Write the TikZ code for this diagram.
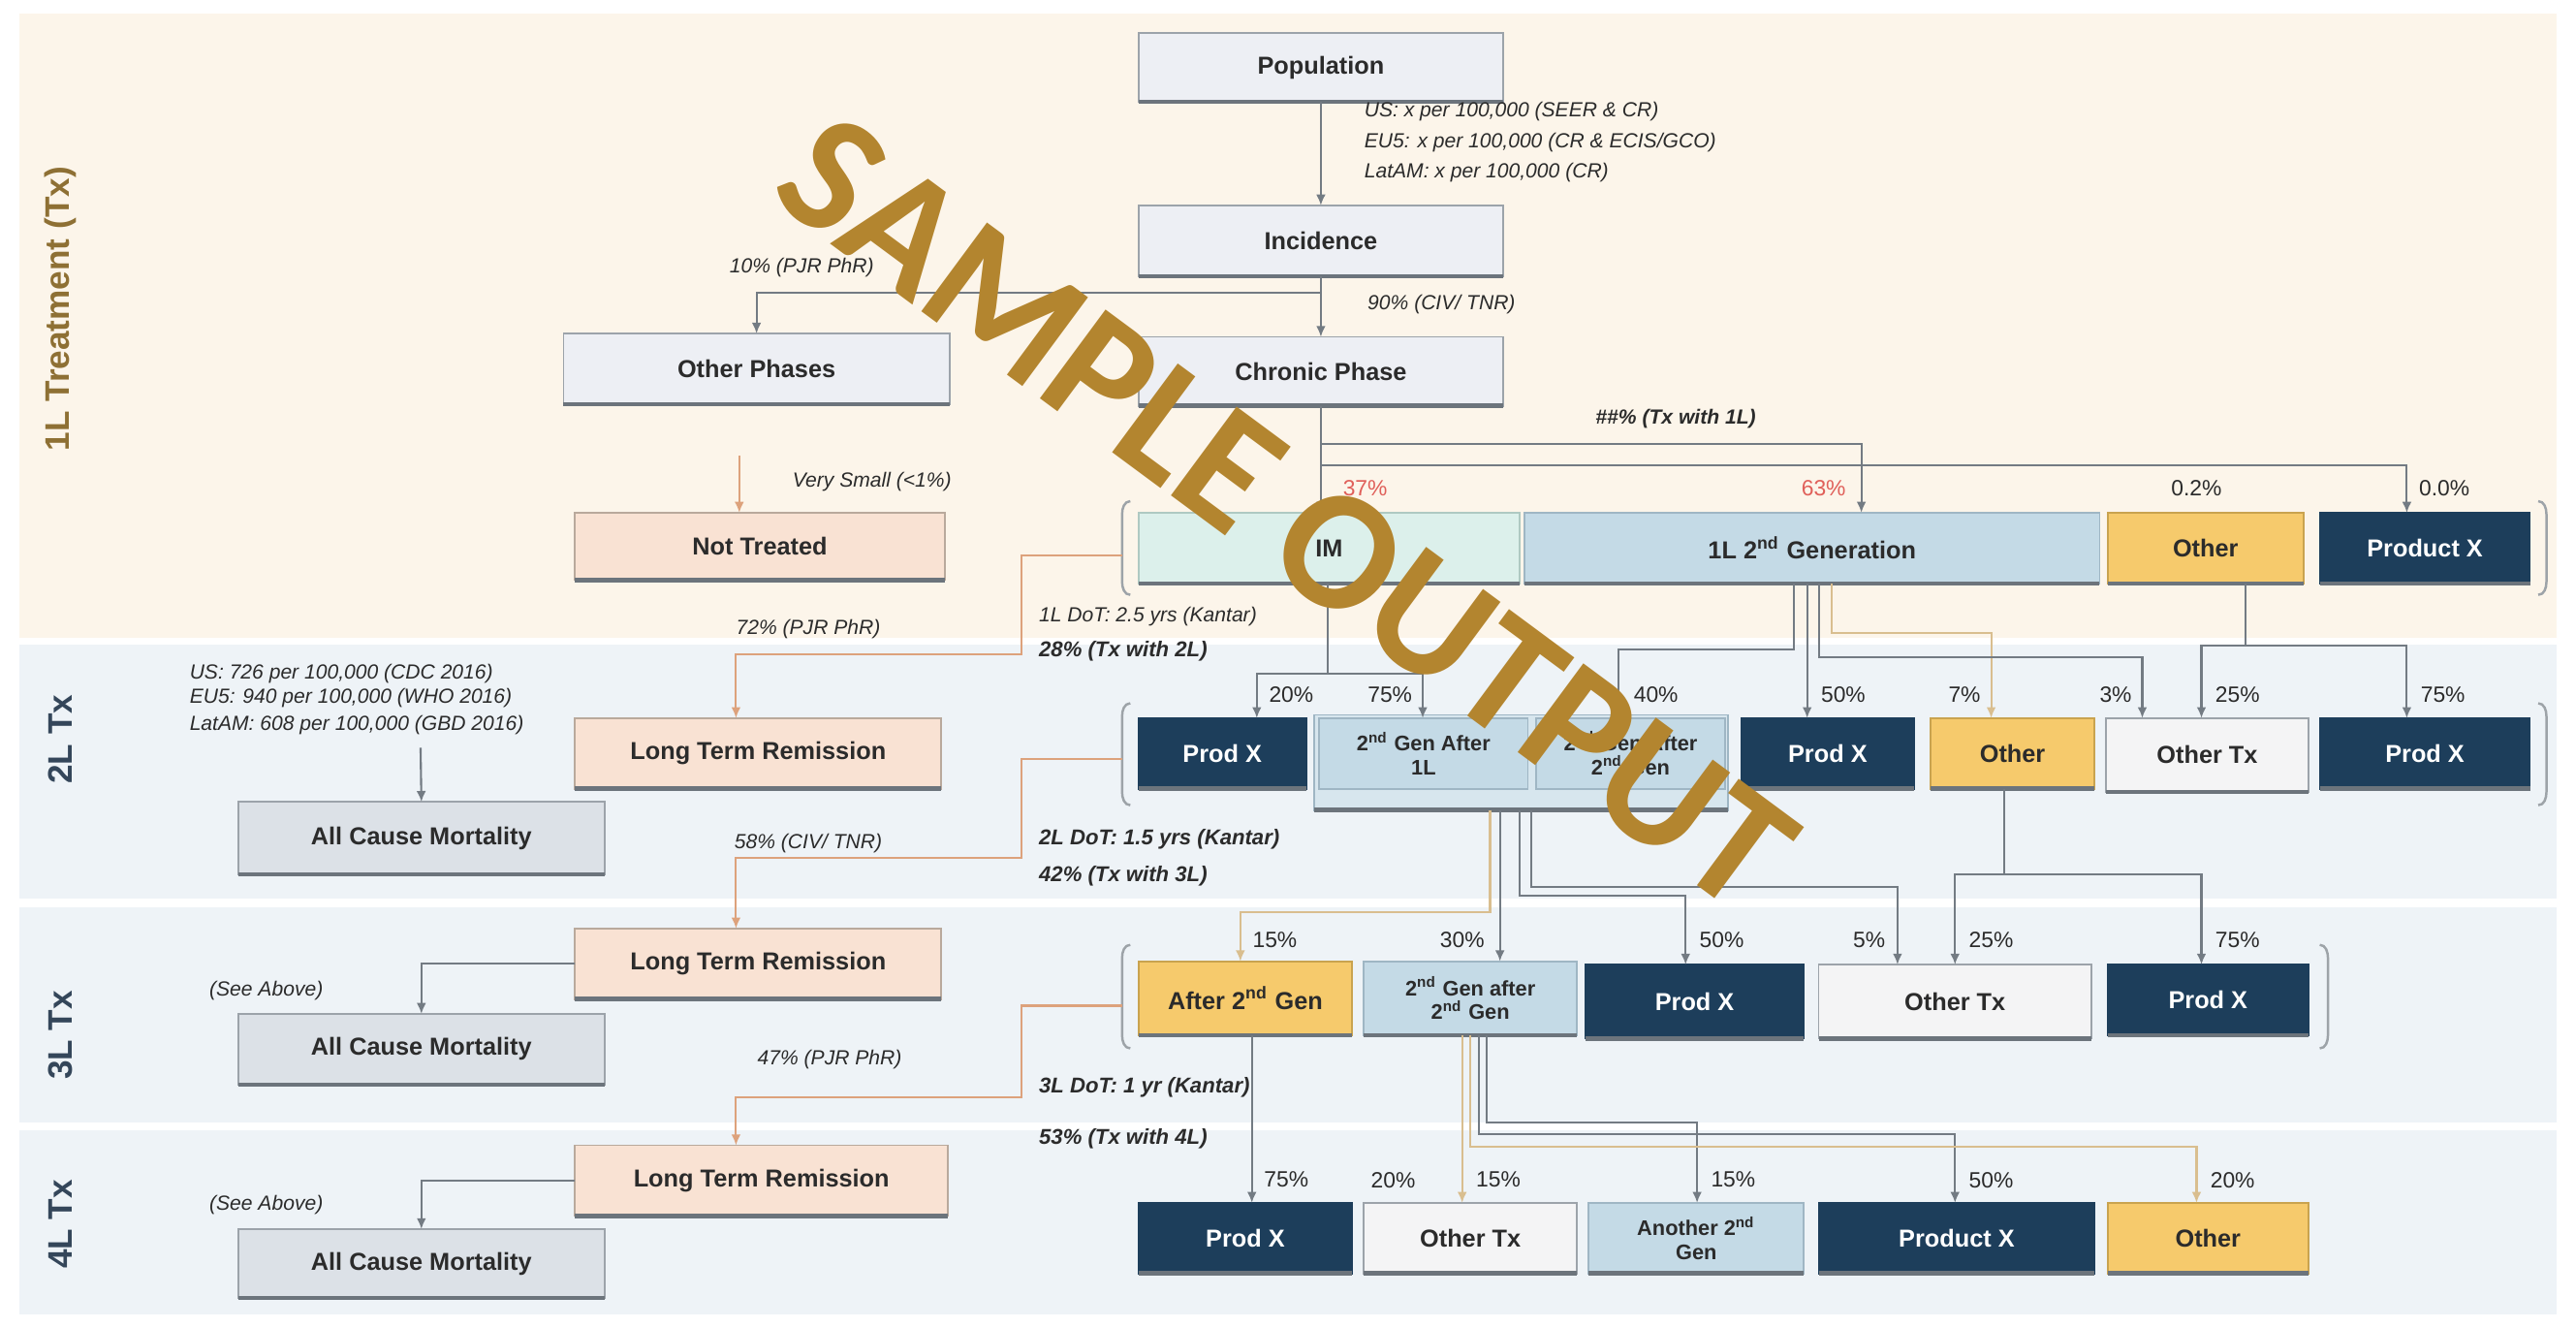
\documentclass[tikz,border=0pt]{standalone}
\usepackage{fontspec}
\setmainfont{Liberation Sans}
\newfontfamily\wmfont{Carlito}
\usetikzlibrary{arrows.meta,calc}
\definecolor{bandA}{HTML}{FCF5EA}
\definecolor{bandB}{HTML}{EEF3F7}
\definecolor{boxg}{HTML}{EDEFF4}
\definecolor{edgeg}{HTML}{9CA3AA}
\definecolor{shad}{HTML}{6C747C}
\definecolor{peach}{HTML}{F9E2D3}
\definecolor{peachE}{HTML}{B9A99C}
\definecolor{mort}{HTML}{DCE1E7}
\definecolor{navy}{HTML}{1D3E5B}
\definecolor{lblue}{HTML}{C4DAE6}
\definecolor{lblueE}{HTML}{9FB6C4}
\definecolor{lblueC}{HTML}{D7E6EE}
\definecolor{yell}{HTML}{F6CA6C}
\definecolor{yellE}{HTML}{C9A34F}
\definecolor{lite}{HTML}{F4F4F5}
\definecolor{mint}{HTML}{DCF0EB}
\definecolor{mintE}{HTML}{AFC9C2}
\definecolor{lnc}{HTML}{737B83}
\definecolor{tanc}{HTML}{D9BE8F}
\definecolor{orc}{HTML}{DDA27C}
\definecolor{redt}{HTML}{E0605A}
\definecolor{goldt}{HTML}{8E7034}
\definecolor{slate}{HTML}{34465A}
\definecolor{wmc}{HTML}{B3852F}
\definecolor{txt}{HTML}{2B2B2B}
\newcommand\mkbox[7]{\node[#6, minimum width={(#4-#2)*0.01695cm}, minimum height={(#5-#3)*0.01695cm}] (#1) at ({(#2+#4)/2},{(#3+#5)/2}) {#7};}
\newcommand\lbrk[3]{\draw[brk] ({#1+5},#2) to[out=180,in=90] (#1,{#2+8}) -- (#1,{#3-8}) to[out=-90,in=180] ({#1+5},#3);}
\newcommand\rbrk[3]{\draw[brk] ({#1-5},#2) to[out=0,in=90] (#1,{#2+8}) -- (#1,{#3-8}) to[out=-90,in=0] ({#1-5},#3);}
\begin{document}
\begin{tikzpicture}[x=0.01695cm,y=-0.01695cm,
  bx/.style={rectangle, draw=edgeg, line width=0.5pt, inner sep=1pt, outer sep=0pt, align=center, font=\bfseries\fontsize{7.2}{8.2}\selectfont, text=txt},
  small/.style={font=\bfseries\fontsize{6.2}{7}\selectfont},
  grayb/.style={bx, fill=boxg},
  peachb/.style={bx, fill=peach, draw=peachE},
  mortb/.style={bx, fill=mort},
  navyb/.style={bx, fill=navy, draw=navy, text=white},
  blueb/.style={bx, fill=lblue, draw=lblueE},
  contb/.style={bx, fill=lblueC, draw=lblueE},
  yellb/.style={bx, fill=yell, draw=yellE},
  liteb/.style={bx, fill=lite, draw=edgeg},
  mintb/.style={bx, fill=mint, draw=mintE},
  conn/.style={draw=lnc, line width=0.6pt, -{Latex[length=3.2pt,width=2.8pt]}},
  connT/.style={conn, draw=tanc},
  connO/.style={conn, draw=orc},
  pct/.style={font=\fontsize{6.5}{7}\selectfont, text=txt, inner sep=1pt},
  note/.style={font=\itshape\fontsize{6}{7}\selectfont, text=txt, inner sep=1pt},
  notebf/.style={font=\bfseries\itshape\fontsize{6.3}{7}\selectfont, text=txt, inner sep=1pt},
  brk/.style={draw=lnc!70, line width=0.7pt},
  tier/.style={rotate=90, font=\bfseries\fontsize{10}{12}\selectfont},
]
\useasboundingbox (0,0) rectangle (1568,808);
\fill[white] (0,0) rectangle (1568,808);
% bands
\fill[bandA] (12,8) rectangle (1556,388);
\fill[bandB] (12,392) rectangle (1556,547);
\fill[bandB] (12,552) rectangle (1556,683);
\fill[bandB] (12,688) rectangle (1556,800);
\node[tier, text=goldt] (t1) at (37,188) {1L Treatment (Tx)};
\node[tier, text=slate] (t2) at (37,450) {2L Tx};
\node[tier, text=slate] (t3) at (37,630) {3L Tx};
\node[tier, text=slate] (t4) at (37,745) {4L Tx};

% top column
\mkbox{pop}{693}{20}{915}{62}{grayb}{Population}
\mkbox{inc}{693}{125}{915}{168}{grayb}{Incidence}
\mkbox{chr}{693}{205}{915}{247}{grayb}{Chronic Phase}
\mkbox{oth}{343}{203}{578}{246}{grayb}{Other Phases}
\mkbox{nt}{350}{312}{575}{353}{peachb}{Not Treated}
\mkbox{ltr2}{350}{437}{573}{480}{peachb}{Long Term Remission}
\mkbox{acm2}{145}{488}{368}{532}{mortb}{All Cause Mortality}
\mkbox{ltr3}{350}{565}{573}{608}{peachb}{Long Term Remission}
\mkbox{acm3}{145}{617}{368}{660}{mortb}{All Cause Mortality}
\mkbox{ltr4}{350}{697}{577}{740}{peachb}{Long Term Remission}
\mkbox{acm4}{145}{748}{368}{790}{mortb}{All Cause Mortality}

% 1L row
\mkbox{im}{693}{312}{925}{355}{mintb}{IM}
\mkbox{gen1}{928}{312}{1278}{355}{blueb}{1L 2\textsuperscript{nd} Generation}
\mkbox{oth1}{1283}{312}{1402}{355}{yellb}{Other}
\mkbox{px1}{1412}{312}{1540}{355}{navyb}{Product X}

% 2L row
\mkbox{px2a}{693}{437}{795}{480}{navyb}{Prod X}
\mkbox{cont}{800}{435}{1052}{493}{contb}{}
\mkbox{g2a}{803}{437}{930}{480}{blueb,small}{2\textsuperscript{nd} Gen After\\1L}
\mkbox{g2b}{935}{437}{1050}{480}{blueb,small}{2\textsuperscript{nd} Gen After\\2\textsuperscript{nd} Gen}
\mkbox{px2b}{1060}{437}{1165}{480}{navyb}{Prod X}
\mkbox{oth2}{1175}{437}{1275}{480}{yellb}{Other}
\mkbox{otx2}{1282}{437}{1405}{482}{liteb}{Other Tx}
\mkbox{px2c}{1412}{437}{1540}{480}{navyb}{Prod X}

% 3L row
\mkbox{ag3}{693}{585}{823}{630}{yellb}{After 2\textsuperscript{nd} Gen}
\mkbox{g3}{830}{585}{960}{630}{blueb,small}{2\textsuperscript{nd} Gen after\\2\textsuperscript{nd} Gen}
\mkbox{px3a}{965}{587}{1098}{632}{navyb}{Prod X}
\mkbox{otx3}{1107}{587}{1273}{632}{liteb}{Other Tx}
\mkbox{px3b}{1283}{587}{1405}{630}{navyb}{Prod X}

% 4L row
\mkbox{px4a}{693}{732}{823}{775}{navyb}{Prod X}
\mkbox{otx4}{830}{732}{960}{775}{liteb}{Other Tx}
\mkbox{an4}{967}{732}{1098}{775}{blueb,small}{Another 2\textsuperscript{nd}\\Gen}
\mkbox{px4b}{1107}{732}{1275}{775}{navyb}{Product X}
\mkbox{oth4}{1283}{732}{1405}{775}{yellb}{Other}

% bottom shadows
\foreach \n in {pop,inc,chr,oth,nt,ltr2,ltr3,ltr4,acm2,acm3,acm4,im,gen1,oth1,px1,px2a,cont,px2b,oth2,otx2,px2c,ag3,g3,px3a,otx3,px3b,px4a,otx4,an4,px4b,oth4}
  \draw[shad, line width=1.3pt] (\n.south west) -- (\n.south east);

% brackets
\lbrk{683}{305}{362}
\rbrk{1550}{305}{362}
\lbrk{683}{428}{490}
\rbrk{1550}{428}{490}
\lbrk{683}{575}{638}
\rbrk{1417}{575}{638}
\coordinate (b1) at (683,338);
\coordinate (b2) at (683,462);
\coordinate (b3) at (683,612);

% top connectors
\draw[conn] (pop.south) -- (inc.north);
\draw[conn] (inc.south) -- (chr.north);
\draw[conn] (inc.south) -- ++(0,10) -| (oth.north);
\node[note, anchor=west] (n1) at (828,68) {US: x per 100,000 (SEER \& CR)};
\node[note, anchor=west] (n2) at (828,87) {EU5: x per 100,000 (CR \& ECIS/GCO)};
\node[note, anchor=west] (n3) at (828,105) {LatAM: x per 100,000 (CR)};
\node[note, anchor=west] (n4) at (830,185) {90\% (CIV/ TNR)};
\node[note] (n5) at (488,163) {10\% (PJR PhR)};
\coordinate (ntsrc) at (450,277);
\draw[connO] (ntsrc) -- (ntsrc |- nt.north);
\node[note, anchor=west] (n6) at (480,293) {Very Small (<1\%)};

% chronic -> 1L
\draw[conn] (chr.south) -- (chr.south |- im.north);
\draw[conn] ($(chr.south)+(0,23)$) -| ($(gen1.north west)+(205,0)$);
\draw[conn] ($(chr.south)+(0,36)$) -| ($(px1.north west)+(53,0)$);
\node[note, font=\bfseries\itshape\fontsize{6}{7}\selectfont] (n7) at (1020,255) {\#\#\% (Tx with 1L)};
\node[pct, text=redt, anchor=west] (p1) at (815,297) {37\%};
\node[pct, text=redt, anchor=east] (p2) at (1126,297) {63\%};
\node[pct] (p3) at (1337,297) {0.2\%};
\node[pct, anchor=west] (p4) at (1470,297) {0.0\%};

% 1L -> 2L
\draw[connO] (b1) -- ++(-61,0) -- ++(0,60) -| ($(ltr2.north west)+(98,0)$);
\node[note] (n8) at (492,383) {72\% (PJR PhR)};
\node[note, anchor=west] (n9) at (630,375) {1L DoT: 2.5 yrs (Kantar)};
\node[notebf, anchor=west] (n10) at (630,396) {28\% (Tx with 2L)};
\draw[conn] ($(im.south west)+(115,0)$) -- ++(0,55) -| ($(px2a.north west)+(72,0)$);
\draw[conn] ($(im.south west)+(115,55)$) -| ($(g2a.north west)+(63,0)$);
\draw[conn] ($(gen1.south west)+(164,0)$) -- ++(0,40) -| ($(g2b.north west)+(50,0)$);
\draw[conn] ($(gen1.south west)+(172,0)$) -- ($(px2b.north west)+(40,0)$);
\draw[connT] ($(gen1.south west)+(187,0)$) -- ++(0,30) -| ($(oth2.north west)+(37,0)$);
\draw[conn] ($(gen1.south west)+(179,0)$) -- ++(0,45) -| ($(otx2.north west)+(22,0)$);
\draw[conn] ($(oth1.south west)+(84,0)$) -- ++(0,38) -| ($(otx2.north west)+(58,0)$);
\draw[conn] ($(oth1.south west)+(84,38)$) -| ($(px2c.north west)+(53,0)$);
\node[pct, anchor=west] (q1) at (770,423) {20\%};
\node[pct, anchor=east] (q2) at (862,423) {75\%};
\node[pct, anchor=west] (q3) at (992,423) {40\%};
\node[pct, anchor=west] (q4) at (1106,423) {50\%};
\node[pct, anchor=east] (q5) at (1208,423) {7\%};
\node[pct, anchor=east] (q6) at (1300,423) {3\%};
\node[pct, anchor=west] (q7) at (1346,423) {25\%};
\node[pct, anchor=west] (q8) at (1471,423) {75\%};

% 2L -> 3L
\draw[connO] (b2) -- ++(-61,0) -- ++(0,60) -| ($(ltr3.north west)+(98,0)$);
\node[note] (n11) at (492,513) {58\% (CIV/ TNR)};
\node[notebf, anchor=west] (n12) at (630,511) {2L DoT: 1.5 yrs (Kantar)};
\node[notebf, anchor=west] (n13) at (630,533) {42\% (Tx with 3L)};
\draw[connT] ($(cont.south west)+(107,0)$) -- ++(0,62) -| ($(ag3.north west)+(62,0)$);
\draw[conn] ($(cont.south west)+(113,0)$) -- ($(g3.north west)+(83,0)$);
\draw[conn] ($(cont.south west)+(125,0)$) -- ++(0,52) -| ($(px3a.north west)+(61,0)$);
\draw[conn] ($(cont.south west)+(132,0)$) -- ++(0,47) -| ($(otx3.north west)+(48,0)$);
\draw[conn] ($(oth2.south west)+(45,0)$) -- ++(0,52) -| ($(otx3.north west)+(83,0)$);
\draw[conn] ($(oth2.south west)+(45,52)$) -| ($(px3b.north west)+(57,0)$);
\node[pct, anchor=west] (r1) at (760,572) {15\%};
\node[pct, anchor=east] (r2) at (906,572) {30\%};
\node[pct, anchor=west] (r3) at (1032,572) {50\%};
\node[pct, anchor=east] (r4) at (1150,572) {5\%};
\node[pct, anchor=west] (r5) at (1196,572) {25\%};
\node[pct, anchor=west] (r6) at (1346,572) {75\%};

% 3L -> 4L
\draw[connO] (b3) -- ++(-61,0) -- ++(0,56) -| ($(ltr4.north west)+(98,0)$);
\node[note] (n14) at (505,645) {47\% (PJR PhR)};
\node[notebf, anchor=west] (n15) at (630,662) {3L DoT: 1 yr (Kantar)};
\node[notebf, anchor=west] (n16) at (630,693) {53\% (Tx with 4L)};
\draw[conn] ($(ag3.south west)+(69,0)$) -- ($(px4a.north west)+(69,0)$);
\draw[connT] ($(g3.south west)+(60,0)$) -- ($(otx4.north west)+(60,0)$);
\draw[conn] ($(g3.south west)+(75,0)$) -- ++(0,53) -| ($(an4.north west)+(66,0)$);
\draw[conn] ($(g3.south west)+(70,0)$) -- ++(0,60) -| ($(px4b.north west)+(83,0)$);
\draw[connT] ($(g3.south west)+(65,0)$) -- ++(0,68) -| ($(oth4.north west)+(54,0)$);
\node[pct, anchor=west] (s1) at (767,718) {75\%};
\node[pct] (s2) at (848,718) {20\%};
\node[pct, anchor=west] (s3) at (896,718) {15\%};
\node[pct, anchor=west] (s4) at (1039,718) {15\%};
\node[pct, anchor=west] (s5) at (1196,718) {50\%};
\node[pct, anchor=west] (s6) at (1343,718) {20\%};

% left side
\node[note, anchor=west] (m1) at (113,410) {US: 726 per 100,000 (CDC 2016)};
\node[note, anchor=west] (m2) at (113,425) {EU5: 940 per 100,000 (WHO 2016)};
\node[note, anchor=west] (m3) at (113,441) {LatAM: 608 per 100,000 (GBD 2016)};
\coordinate (acmsrc) at (256,455);
\draw[conn] (acmsrc) -- (acm2.north);
\draw[conn] (ltr3.west) -| (acm3.north);
\draw[conn] (ltr4.west) -| (acm4.north);
\node[note, anchor=west] (m4) at (125,603) {(See Above)};
\node[note, anchor=west] (m5) at (125,733) {(See Above)};

% watermark
\node[rotate=-36.5, text=wmc, font=\wmfont\bfseries\fontsize{50}{50}\selectfont] (wm) at (783,312) {SAMPLE OUTPUT};
\end{tikzpicture}
\end{document}
